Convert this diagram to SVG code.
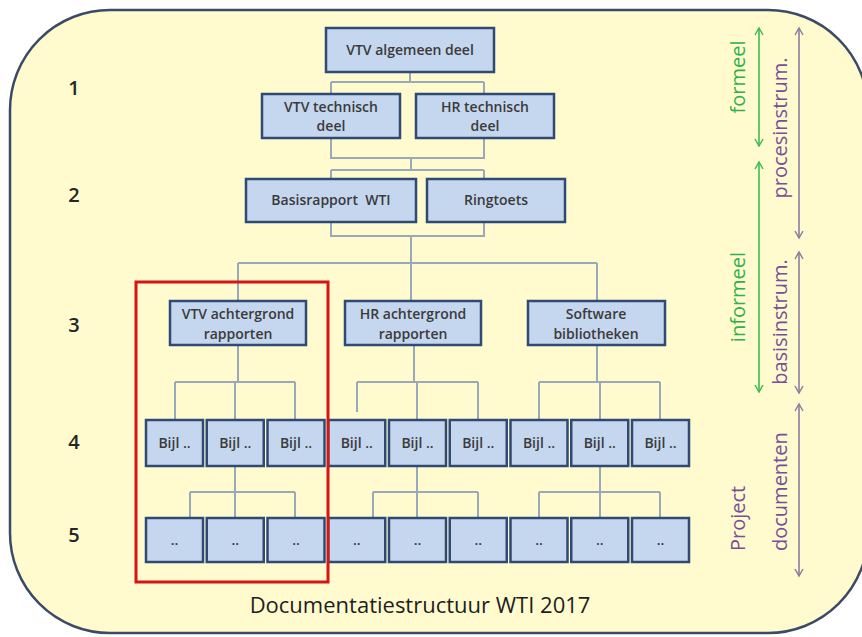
<svg xmlns="http://www.w3.org/2000/svg" width="862" height="637" viewBox="0 0 862 637">
<defs>
<style>
.bg{fill:#FFFBCF;stroke:#3C4A66;stroke-width:2.5}
.box{fill:#C5D7EE;stroke:#2E4A75;stroke-width:2.5}
.t{font-family:"Open Sans","Liberation Sans",sans-serif;font-size:14px;font-weight:600;fill:#3A3A3A;text-anchor:middle}
.n{font-family:"Open Sans","Liberation Sans",sans-serif;font-size:20px;font-weight:600;fill:#262626;text-anchor:middle}
.c{fill:none;stroke:#98A9BA;stroke-width:2}
.g{stroke:#3DBB55;stroke-width:1.6;fill:none}
.p{stroke:#8C7E9E;stroke-width:1.6;fill:none}
.gt{font-family:"Open Sans","Liberation Sans",sans-serif;font-size:20px;fill:#2FB04A;text-anchor:middle}
.pt{font-family:"Open Sans","Liberation Sans",sans-serif;font-size:20px;fill:#7A4E97;text-anchor:middle}
</style>
<marker id="ag" markerWidth="10" markerHeight="10" refX="8" refY="5" orient="auto-start-reverse" markerUnits="userSpaceOnUse"><path d="M1,1 L8,5 L1,9" fill="none" stroke="#3DBB55" stroke-width="1.5"/></marker>
<marker id="ap" markerWidth="10" markerHeight="10" refX="8" refY="5" orient="auto-start-reverse" markerUnits="userSpaceOnUse"><path d="M1,1 L8,5 L1,9" fill="none" stroke="#8C7E9E" stroke-width="1.5"/></marker>
</defs>
<rect class="bg" x="10" y="10" width="858" height="623" rx="100" ry="100"/>

<g id="levels">
<text class="n" x="74" y="95">1</text>
<text class="n" x="74" y="202">2</text>
<text class="n" x="74" y="332">3</text>
<text class="n" x="74" y="449">4</text>
<text class="n" x="74" y="542">5</text>
</g>

<g id="connectors">
<path class="c" d="M410,72 V82 M331,82 H484 M331,82 V94 M484,82 V94"/>
<path class="c" d="M331,138 V158 H484 V138 M411,158 V170 M331,170 H484 M331,170 V179 M484,170 V179"/>
<path class="c" d="M331,222 V236 H484 V222 M411,236 V301 M238,263 H597 M238,263 V301 M597,263 V301"/>
<path class="c" d="M238,345 V382 M175,382 H295 M175,382 V420 M235,382 V420 M295,382 V420"/>
<path class="c" d="M414,345 V382 M357,382 H478 M357,382 V412 M417,382 V420 M478,382 V420"/>
<path class="c" d="M597,345 V382 M539,382 H660 M539,382 V420 M600,382 V420 M660,382 V420"/>
<path class="c" d="M235,466 V492 M190,492 H295 M190,492 V518 M235,492 V518 M295,492 V518"/>
<path class="c" d="M417,466 V492 M373,492 H478 M373,492 V518 M417,492 V518 M478,492 V518"/>
<path class="c" d="M600,466 V492 M539,492 H660 M539,492 V518 M600,492 V518 M660,492 V518"/>
</g>

<g id="n-vtv-algemeen"><rect class="box" x="326" y="28" width="168" height="44"/><text class="t" x="410" y="55">VTV algemeen deel</text></g>
<g id="n-vtv-technisch"><rect class="box" x="262" y="94" width="138" height="44"/><text class="t" x="331" y="112">VTV technisch</text><text class="t" x="331" y="131">deel</text></g>
<g id="n-hr-technisch"><rect class="box" x="416" y="94" width="138" height="44"/><text class="t" x="485" y="112">HR technisch</text><text class="t" x="485" y="131">deel</text></g>
<g id="n-basisrapport"><rect class="box" x="246" y="179" width="170" height="43"/><text class="t" x="331" y="205" xml:space="preserve">Basisrapport  WTI</text></g>
<g id="n-ringtoets"><rect class="box" x="427" y="179" width="138" height="43"/><text class="t" x="496" y="205">Ringtoets</text></g>
<g id="n-vtv-achtergrond"><rect class="box" x="170" y="301" width="136" height="44"/><text class="t" x="238" y="319">VTV achtergrond</text><text class="t" x="238" y="339">rapporten</text></g>
<g id="n-hr-achtergrond"><rect class="box" x="345" y="301" width="136" height="44"/><text class="t" x="413" y="319">HR achtergrond</text><text class="t" x="413" y="339">rapporten</text></g>
<g id="n-software"><rect class="box" x="528" y="301" width="137" height="44"/><text class="t" x="596" y="319">Software</text><text class="t" x="596" y="339">bibliotheken</text></g>

<g id="n-bijl-1"><rect class="box" x="146" y="420" width="57" height="46"/><text class="t" x="174.5" y="448">Bijl ..</text></g>
<g id="n-bijl-2"><rect class="box" x="206.75" y="420" width="57" height="46"/><text class="t" x="235.25" y="448">Bijl ..</text></g>
<g id="n-bijl-3"><rect class="box" x="267.5" y="420" width="57" height="46"/><text class="t" x="296" y="448">Bijl ..</text></g>
<g id="n-bijl-4"><rect class="box" x="328.25" y="420" width="57" height="46"/><text class="t" x="356.75" y="448">Bijl ..</text></g>
<g id="n-bijl-5"><rect class="box" x="389" y="420" width="57" height="46"/><text class="t" x="417.5" y="448">Bijl ..</text></g>
<g id="n-bijl-6"><rect class="box" x="449.75" y="420" width="57" height="46"/><text class="t" x="478.25" y="448">Bijl ..</text></g>
<g id="n-bijl-7"><rect class="box" x="510.5" y="420" width="57" height="46"/><text class="t" x="539" y="448">Bijl ..</text></g>
<g id="n-bijl-8"><rect class="box" x="571.25" y="420" width="57" height="46"/><text class="t" x="599.75" y="448">Bijl ..</text></g>
<g id="n-bijl-9"><rect class="box" x="632" y="420" width="57" height="46"/><text class="t" x="660.5" y="448">Bijl ..</text></g>

<g id="n-doc-1"><rect class="box" x="146" y="518" width="57" height="44"/><text class="t" x="174.5" y="545">..</text></g>
<g id="n-doc-2"><rect class="box" x="206.75" y="518" width="57" height="44"/><text class="t" x="235.25" y="545">..</text></g>
<g id="n-doc-3"><rect class="box" x="267.5" y="518" width="57" height="44"/><text class="t" x="296" y="545">..</text></g>
<g id="n-doc-4"><rect class="box" x="328.25" y="518" width="57" height="44"/><text class="t" x="356.75" y="545">..</text></g>
<g id="n-doc-5"><rect class="box" x="389" y="518" width="57" height="44"/><text class="t" x="417.5" y="545">..</text></g>
<g id="n-doc-6"><rect class="box" x="449.75" y="518" width="57" height="44"/><text class="t" x="478.25" y="545">..</text></g>
<g id="n-doc-7"><rect class="box" x="510.5" y="518" width="57" height="44"/><text class="t" x="539" y="545">..</text></g>
<g id="n-doc-8"><rect class="box" x="571.25" y="518" width="57" height="44"/><text class="t" x="599.75" y="545">..</text></g>
<g id="n-doc-9"><rect class="box" x="632" y="518" width="57" height="44"/><text class="t" x="660.5" y="545">..</text></g>

<g id="highlight"><rect x="136" y="282" width="192" height="300" fill="none" stroke="#D41515" stroke-width="3"/></g>

<g id="side-arrows">
<line class="g" x1="759" y1="28" x2="759" y2="146" marker-start="url(#ag)" marker-end="url(#ag)"/>
<line class="g" x1="759" y1="162" x2="759" y2="392" marker-start="url(#ag)" marker-end="url(#ag)"/>
<line class="p" x1="799" y1="28" x2="799" y2="238" marker-start="url(#ap)" marker-end="url(#ap)"/>
<line class="p" x1="799" y1="252" x2="799" y2="393" marker-start="url(#ap)" marker-end="url(#ap)"/>
<line class="p" x1="799" y1="404" x2="799" y2="576" marker-start="url(#ap)" marker-end="url(#ap)"/>
</g>

<g id="side-labels">
<text class="gt" transform="translate(745,77) rotate(-90)">formeel</text>
<text class="gt" transform="translate(745,297) rotate(-90)">informeel</text>
<text class="pt" transform="translate(787,128) rotate(-90)">procesinstrum.</text>
<text class="pt" transform="translate(787,322) rotate(-90)">basisinstrum.</text>
<text class="pt" transform="translate(745,551) rotate(-90)" text-anchor="start" style="text-anchor:start">Project</text>
<text class="pt" transform="translate(787,551) rotate(-90)" text-anchor="start" style="text-anchor:start">documenten</text>
</g>

<text id="title" x="420" y="613" font-family="'Open Sans','Liberation Sans',sans-serif" font-size="22" fill="#1E1E1E" text-anchor="middle">Documentatiestructuur WTI 2017</text>
</svg>
